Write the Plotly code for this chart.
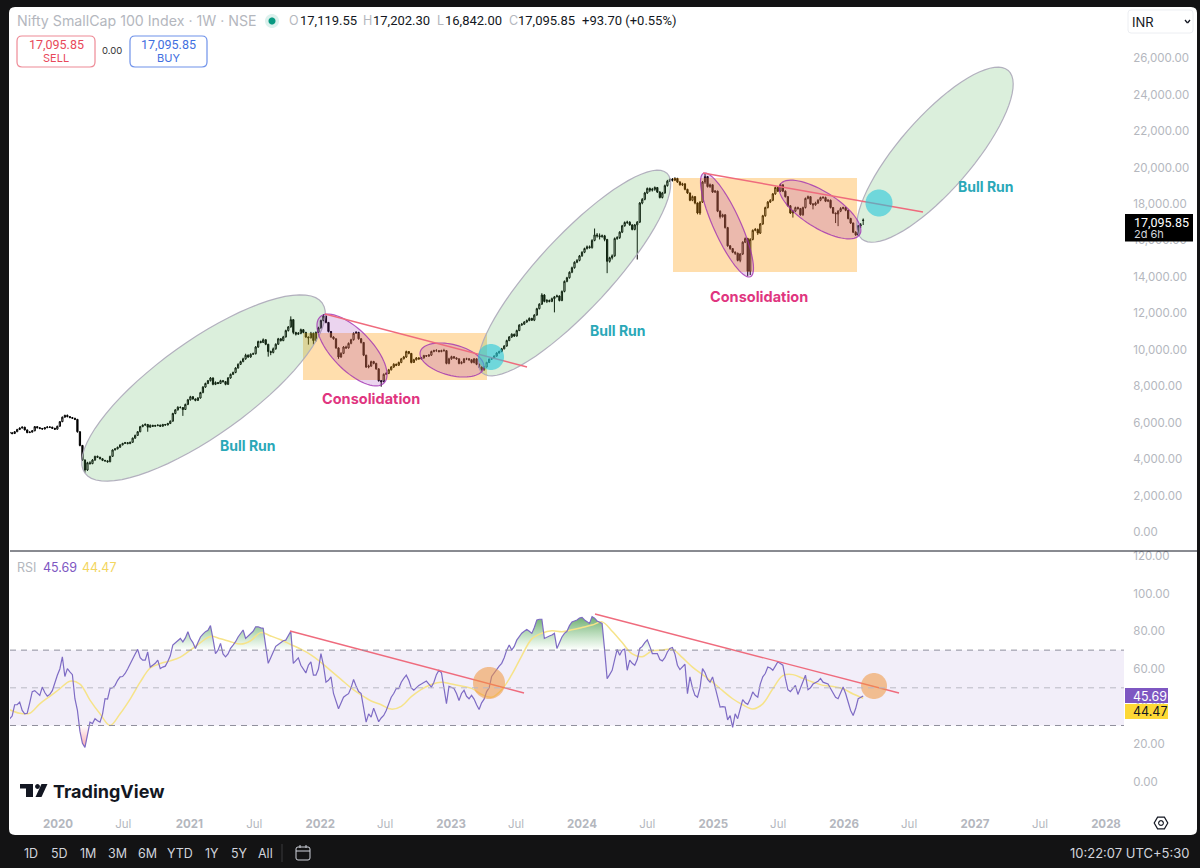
import math

import numpy as np
import pandas as pd
import plotly.graph_objects as go

WIDTH = 1200
HEIGHT = 868
FONT = "Inter"
NUM_FONT = "Roboto"

# weekly candles
candle_open = [
    5460, 5440, 5400, 5500, 5620, 5700, 5750, 5600, 5450, 5480,
    5550, 5780, 5720, 5680, 5650, 5720, 5760, 5750, 5690, 5640,
    5800, 6050, 6300, 6400, 6330, 6280, 6240, 6180, 5500, 4750,
    3950, 3400, 3800, 3750, 3950, 4150, 4100, 4020, 3930, 3900,
    3850, 4150, 4500, 4560, 4650, 4780, 4860, 4900, 4850, 4920,
    5150, 5300, 5500, 5780, 5860, 5900, 5750, 5850, 5800, 5840,
    5860, 5800, 5900, 5870, 5950, 6080, 6500, 6700, 6840, 6830,
    6720, 7000, 7250, 7420, 7300, 7220, 7350, 7650, 7950, 8150,
    8300, 8450, 8100, 8200, 8150, 8300, 8250, 8100, 8450, 8650,
    8750, 9000, 9200, 9350, 9500, 9700, 9600, 9750, 9780, 10150,
    10450, 10400, 10550, 10300, 9900, 9850, 10050, 10300, 10600, 10500,
    10700, 11050, 11250, 11650, 10950, 10850, 10900, 11100, 10950, 10700,
    10650, 10900, 10500, 10950, 11200, 11600, 11850, 11500, 11000, 10700,
    10600, 10100, 9600, 9800, 10150, 10100, 10350, 10550, 10900, 10950,
    10600, 10400, 9700, 9050, 9100, 9350, 9250, 8950, 8300, 8250,
    8650, 8700, 8900, 9050, 9200, 9150, 9300, 9500, 9600, 9900,
    9800, 9300, 9450, 9550, 9500, 9550, 9680, 9650, 9700, 9900,
    9950, 9950, 9900, 9950, 9950, 9250, 9500, 9620, 9550, 9500,
    9250, 9300, 9500, 9500, 9450, 9300, 9500, 9200, 9050, 8900,
    9050, 9300, 9480, 9520, 9650, 9820, 9900, 10050, 10200, 10500,
    10700, 10850, 10750, 11050, 11350, 11400, 11520, 11600, 11720, 11620,
    11900, 12250, 12500, 13000, 12650, 12700, 12650, 12800, 12900, 12950,
    12700, 13200, 13750, 13950, 14250, 14500, 14800, 14900, 15150, 15350,
    15550, 15650, 15600, 16000, 16300, 16250, 16200, 16250, 16050, 14850,
    15050, 15150, 16100, 16150, 16450, 16800, 16980, 17000, 16850, 16600,
    16850, 17000, 18050, 18250, 18600, 18850, 18750, 18800, 18900, 18650,
    18350, 18600, 19000, 19250, 19350, 19300, 19400, 19200, 19050, 19100,
    18800, 18600, 18200, 18400, 18050, 17500, 18100, 19200, 19500, 18950,
    19050, 18650, 18700, 17600, 17300, 17400, 16700, 15700, 15550, 15350,
    15300, 14900, 15250, 15900, 16100, 14300, 16050, 16550, 16600, 16400,
    16900, 17350, 17800, 18100, 18200, 18550, 18900, 18700, 19050, 18700,
    18400, 17900, 17500, 17600, 17800, 17750, 17400, 17800, 18300, 18400,
    18000, 17950, 18050, 18200, 18350, 18350, 18150, 18200, 17800, 17500,
    17450, 17600, 17750, 17800, 17650, 17200, 16950, 16450, 16300, 16800,
    17119.55,
]
candle_high = [
    5500, 5480, 5540, 5660, 5740, 5790, 5770, 5620, 5520, 5590,
    5810, 5800, 5750, 5700, 5760, 5800, 5790, 5770, 5710, 5830,
    6080, 6330, 6430, 6440, 6350, 6310, 6260, 6200, 5520, 4770,
    3980, 3850, 3880, 4000, 4180, 4190, 4120, 4040, 3950, 3930,
    4180, 4530, 4590, 4680, 4810, 4890, 4940, 4930, 4960, 5180,
    5340, 5540, 5820, 5900, 5960, 5920, 5900, 5880, 5880, 5900,
    5890, 5930, 5920, 5990, 6120, 6540, 6740, 6900, 6890, 6850,
    7040, 7300, 7470, 7460, 7320, 7400, 7690, 8000, 8190, 8340,
    8500, 8480, 8260, 8230, 8350, 8340, 8270, 8500, 8690, 8800,
    9040, 9250, 9400, 9560, 9780, 9740, 9800, 9840, 10200, 10500,
    10500, 10620, 10560, 10320, 9950, 10120, 10350, 10650, 10630, 10760,
    11100, 11300, 11830, 11680, 10980, 10970, 11160, 11130, 10980, 10720,
    10980, 10940, 11000, 11260, 11650, 11950, 11870, 11520, 11030, 10740,
    10620, 10130, 9860, 10200, 10220, 10400, 10600, 10950, 11020, 10980,
    10640, 10420, 9720, 9180, 9400, 9390, 9280, 8980, 8340, 8700,
    8760, 8950, 9100, 9260, 9240, 9350, 9550, 9660, 9950, 9930,
    9820, 9500, 9600, 9590, 9600, 9720, 9710, 9760, 9950, 10000,
    10030, 9980, 10000, 10050, 9970, 9560, 9670, 9650, 9580, 9520,
    9370, 9540, 9560, 9540, 9470, 9540, 9520, 9240, 9080, 9110,
    9340, 9520, 9560, 9690, 9860, 9950, 10100, 10250, 10550, 10750,
    10900, 10880, 11100, 11400, 11470, 11570, 11660, 11770, 11750, 11950,
    12300, 12550, 13100, 13050, 12780, 12750, 12860, 12950, 13020, 12980,
    13250, 13800, 14000, 14300, 14560, 14850, 14970, 15200, 15400, 15600,
    15720, 15720, 16060, 16650, 16400, 16380, 16320, 16300, 16080, 15100,
    15230, 16160, 16230, 16500, 16850, 17040, 17080, 17050, 16880, 16900,
    17060, 18100, 18320, 18660, 18900, 18900, 18880, 18960, 18930, 18700,
    18660, 19060, 19320, 19400, 19420, 19460, 19430, 19250, 19160, 19130,
    18830, 18620, 18460, 18430, 18080, 18150, 19260, 19680, 19520, 19120,
    19080, 18760, 18730, 17650, 17460, 17440, 16740, 15740, 15580, 15400,
    15320, 15300, 15950, 16160, 16140, 16120, 16600, 16680, 16650, 16950,
    17400, 17850, 18160, 18260, 18600, 18950, 18950, 19120, 19060, 18740,
    18430, 17940, 17680, 17850, 17850, 17780, 17850, 18350, 18460, 18430,
    18050, 18120, 18260, 18400, 18430, 18400, 18260, 18240, 17830, 17520,
    17660, 17820, 17850, 17840, 17680, 17240, 16980, 16500, 16850, 16950,
    17202.30,
]
candle_low = [
    5380, 5360, 5380, 5480, 5600, 5680, 5570, 5420, 5430, 5460,
    5530, 5680, 5640, 5610, 5630, 5700, 5710, 5660, 5600, 5620,
    5780, 6030, 6270, 6290, 6240, 6200, 6140, 5450, 4700, 3900,
    3250, 3350, 3700, 3720, 3900, 4060, 3980, 3890, 3860, 3810,
    3830, 4120, 4480, 4530, 4620, 4750, 4830, 4810, 4820, 4890,
    5110, 5270, 5470, 5750, 5830, 5500, 5720, 5760, 5770, 5800,
    5760, 5780, 5840, 5850, 5920, 6050, 6460, 6660, 6780, 6370,
    6700, 6960, 7210, 7260, 7170, 7190, 7320, 7610, 7910, 8110,
    8260, 8050, 8060, 8110, 8120, 8200, 8050, 8070, 8410, 8610,
    8710, 8960, 9160, 9310, 9450, 9550, 9560, 9720, 9740, 10100,
    10350, 10370, 10250, 9620, 9700, 9800, 10000, 10270, 10450, 10470,
    10670, 11000, 11210, 10850, 10780, 10820, 10850, 10900, 10650, 10280,
    10620, 10280, 10450, 10920, 11150, 11560, 11450, 10950, 10650, 10550,
    10050, 9500, 9560, 9760, 10050, 10060, 10300, 10500, 10870, 10550,
    10340, 9650, 9000, 8980, 9060, 9200, 8900, 8250, 7970, 8220,
    8630, 8660, 8860, 9000, 9100, 9110, 9260, 9470, 9550, 9750,
    9250, 9280, 9410, 9450, 9460, 9510, 9600, 9610, 9660, 9860,
    9890, 9850, 9860, 9900, 9200, 9200, 9450, 9500, 9450, 9200,
    9200, 9260, 9430, 9400, 9250, 9250, 9150, 9000, 8850, 8850,
    9020, 9270, 9450, 9490, 9620, 9790, 9860, 10020, 10170, 10470,
    10650, 10700, 10720, 11020, 11320, 11370, 11480, 11560, 11580, 11570,
    11870, 12210, 12460, 12600, 12560, 12600, 12610, 12050, 12880, 12650,
    12660, 13150, 13700, 13900, 14200, 14450, 14750, 14850, 15100, 15300,
    15500, 15550, 15550, 15950, 16150, 16050, 16150, 15950, 14200, 14780,
    14950, 15100, 16030, 16080, 16400, 16750, 16900, 16800, 16550, 16550,
    14950, 16950, 17980, 18200, 18550, 18650, 18680, 18720, 18600, 18300,
    18300, 18560, 18950, 19200, 19230, 19260, 19150, 19000, 18980, 18750,
    18550, 18150, 18150, 17980, 17430, 17400, 18050, 19100, 18900, 18880,
    18600, 18600, 17550, 17200, 17250, 16650, 15650, 15480, 15300, 15200,
    14850, 14800, 15200, 15850, 14050, 14100, 16000, 16500, 16300, 16350,
    16850, 17300, 17750, 18050, 18150, 18500, 18650, 18650, 18650, 18350,
    17850, 17450, 17250, 17550, 17680, 17350, 17350, 17750, 18250, 17950,
    17700, 17900, 18000, 18150, 18270, 18100, 18100, 17750, 17450, 16950,
    16780, 17550, 17700, 17600, 17150, 16900, 16400, 16250, 16250, 16680,
    16842.00,
]
candle_close = [
    5440, 5400, 5500, 5620, 5700, 5750, 5600, 5450, 5480, 5550,
    5780, 5720, 5680, 5650, 5720, 5760, 5750, 5690, 5640, 5800,
    6050, 6300, 6400, 6330, 6280, 6240, 6180, 5500, 4750, 3950,
    3400, 3800, 3750, 3950, 4150, 4100, 4020, 3930, 3900, 3850,
    4150, 4500, 4560, 4650, 4780, 4860, 4900, 4850, 4920, 5150,
    5300, 5500, 5780, 5860, 5900, 5750, 5850, 5800, 5840, 5860,
    5800, 5900, 5870, 5950, 6080, 6500, 6700, 6840, 6830, 6720,
    7000, 7250, 7420, 7300, 7220, 7350, 7650, 7950, 8150, 8300,
    8450, 8100, 8200, 8150, 8300, 8250, 8100, 8450, 8650, 8750,
    9000, 9200, 9350, 9500, 9700, 9600, 9750, 9780, 10150, 10450,
    10400, 10550, 10300, 9900, 9850, 10050, 10300, 10600, 10500, 10700,
    11050, 11250, 11650, 10950, 10850, 10900, 11100, 10950, 10700, 10650,
    10900, 10500, 10950, 11200, 11600, 11850, 11500, 11000, 10700, 10600,
    10100, 9600, 9800, 10150, 10100, 10350, 10550, 10900, 10950, 10600,
    10400, 9700, 9050, 9100, 9350, 9250, 8950, 8300, 8250, 8650,
    8700, 8900, 9050, 9200, 9150, 9300, 9500, 9600, 9900, 9800,
    9300, 9450, 9550, 9500, 9550, 9680, 9650, 9700, 9900, 9950,
    9950, 9900, 9950, 9950, 9250, 9500, 9620, 9550, 9500, 9250,
    9300, 9500, 9500, 9450, 9300, 9500, 9200, 9050, 8900, 9050,
    9300, 9480, 9520, 9650, 9820, 9900, 10050, 10200, 10500, 10700,
    10850, 10750, 11050, 11350, 11400, 11520, 11600, 11720, 11620, 11900,
    12250, 12500, 13000, 12650, 12700, 12650, 12800, 12900, 12950, 12700,
    13200, 13750, 13950, 14250, 14500, 14800, 14900, 15150, 15350, 15550,
    15650, 15600, 16000, 16300, 16250, 16200, 16250, 16050, 14850, 15050,
    15150, 16100, 16150, 16450, 16800, 16980, 17000, 16850, 16600, 16850,
    17000, 18050, 18250, 18600, 18850, 18750, 18800, 18900, 18650, 18350,
    18600, 19000, 19250, 19350, 19300, 19400, 19200, 19050, 19100, 18800,
    18600, 18200, 18400, 18050, 17500, 18100, 19200, 19500, 18950, 19050,
    18650, 18700, 17600, 17300, 17400, 16700, 15700, 15550, 15350, 15300,
    14900, 15250, 15900, 16100, 14300, 16050, 16550, 16600, 16400, 16900,
    17350, 17800, 18100, 18200, 18550, 18900, 18700, 19050, 18700, 18400,
    17900, 17500, 17600, 17800, 17750, 17400, 17800, 18300, 18400, 18000,
    17950, 18050, 18200, 18350, 18350, 18150, 18200, 17800, 17500, 17450,
    17600, 17750, 17800, 17650, 17200, 16950, 16450, 16300, 16800, 16850,
    17095.85,
]
rsi_values = [
    33.5, 35, 41, 41, 42.4, 38, 36.2, 36.5, 42, 48,
    48.5, 47, 46, 50.4, 47.5, 45.6, 46.5, 48.5, 53, 56.7,
    60, 66.4, 56, 60.2, 58.5, 57, 44.2, 38, 27, 20.5,
    18.4, 25, 31.8, 31, 33.6, 32.5, 31.8, 36, 44.2, 44,
    49.6, 50, 51.3, 54, 55.8, 56, 57.6, 60, 62.9, 65,
    68, 70.4, 66, 64.7, 64.7, 69, 61, 62, 63, 64.7,
    60.2, 61, 61.5, 64, 67, 72.7, 74, 75, 76.2, 74.4,
    76.5, 79.8, 76, 74, 70.9, 74, 77, 78.5, 79.8, 80.5,
    83, 76, 68.2, 70, 73.6, 68, 66.4, 68, 71, 72.7,
    74.5, 77, 79, 80.7, 76.2, 77.5, 79, 80, 82.4, 82.4,
    81.8, 81.6, 72, 63, 66, 69, 72, 73, 74, 75,
    75.3, 78, 80, 63, 64.5, 65.9, 62, 60, 57.9, 62,
    63.8, 56.7, 56.7, 60, 68.2, 62, 53, 54, 55.8, 47,
    43, 38.9, 42, 45, 46, 46.9, 50, 54.4, 51, 48,
    46.9, 38, 31.8, 36.2, 34.4, 39.2, 35, 32, 34, 35.3,
    38, 42, 45, 47, 49.6, 49.6, 53, 55, 56.7, 54,
    50, 48.7, 50, 51.3, 52, 53, 53.6, 52, 50.4, 53,
    57, 59.3, 58, 50, 41.6, 50.8, 50.3, 49.6, 47, 43.3,
    47, 48.7, 45.5, 44.2, 46, 44, 41, 38.5, 42, 44,
    48, 50, 56, 58, 60, 61.5, 63, 66, 70, 72.7,
    70, 72, 75.3, 77, 79, 80, 81, 80, 78.9, 82,
    86, 86.4, 86.4, 76.2, 77, 77.5, 78, 78.9, 70.9, 74,
    77, 78.9, 80, 83, 85, 85.5, 86, 87, 87.4, 86,
    85, 84.2, 87.8, 87, 85.5, 84.8, 84.2, 70, 54.9, 57,
    59.3, 65, 70.4, 67.3, 70, 70.5, 59.3, 64.7, 63, 62,
    65, 70.9, 72, 74, 75.5, 72, 68.2, 68.2, 68.2, 65,
    64.3, 66, 69, 70.9, 71.4, 68, 62, 59.7, 61, 62.5,
    46.9, 55.8, 50, 46, 45, 50, 60.2, 58, 54.5, 53,
    55.8, 50, 44.2, 39.8, 40, 39.8, 33, 35.3, 29, 36.2,
    33.6, 38, 43.7, 42, 41.2, 44, 47.8, 46, 45, 52,
    55.8, 57.6, 61, 60.5, 59.3, 61.5, 63.8, 62.9, 62, 55,
    49, 48, 50, 51.3, 46.5, 50, 54, 56.7, 49, 50,
    52, 53, 53.5, 55, 53, 52.5, 52, 49.6, 47, 45,
    44.2, 47, 50.4, 47, 42, 38, 35.3, 39, 44.2, 44.8,
    45.69,
]
# the yellow average, read every fourth week
rsi_avg_values = [
    38.4, 36.5, 36.5, 41.5, 45.5, 49.5, 53.5, 52, 43.5, 36.2,
    30, 36.2, 44, 53, 60.5, 62.9, 64.3, 66.3, 70, 74,
    77.3, 76, 74.5, 73.2, 75, 79.3, 77.5, 75.5, 73, 70.5,
    67.5, 63.5, 59, 54.5, 50, 46.2, 43, 41, 38.7, 40.2,
    45.3, 49.2, 51.8, 53, 52, 51, 49.7, 46.5, 45, 49,
    57, 67, 76, 79, 80.3, 79.8, 80.8, 82, 83.3, 85,
    80, 74, 68, 66.5, 69.7, 70, 70.4, 66, 61, 57,
    53, 48.5, 44.2, 41, 38.8, 41.5, 49.5, 56.5, 57, 55,
    53, 51.3, 50.7, 49.5, 46.7, 44.47,
]

price_ticks = [0, 2000, 4000, 6000, 8000, 10000, 12000, 14000, 16000, 18000, 20000, 22000, 24000, 26000]
rsi_ticks = [0, 20, 40, 60, 80, 100, 120]
time_ticks = ["2020-01-01", "2020-07-01", "2021-01-01", "2021-07-01", "2022-01-01", "2022-07-01",
              "2023-01-01", "2023-07-01", "2024-01-01", "2024-07-01", "2025-01-01", "2025-07-01",
              "2026-01-01", "2026-07-01", "2027-01-01", "2027-07-01", "2028-01-01"]
time_labels = ["<b>2020</b>", "Jul", "<b>2021</b>", "Jul", "<b>2022</b>", "Jul",
               "<b>2023</b>", "Jul", "<b>2024</b>", "Jul", "<b>2025</b>", "Jul",
               "<b>2026</b>", "Jul", "<b>2027</b>", "Jul", "<b>2028</b>"]
range_buttons = ["1D", "5D", "1M", "3M", "6M", "YTD", "1Y", "5Y", "All"]
button_centers = [31, 59, 88, 117, 147, 180, 212, 239, 265]

weeks = pd.date_range("2019-08-19", periods=len(candle_close), freq="7D")
avg_weeks = weeks[::4]
rsi = np.array(rsi_values)

GREEN_FILL = "rgba(76,175,80,0.2)"
GREEN_EDGE = "rgba(175,172,188,0.95)"
ORANGE_FILL = "rgba(255,152,0,0.32)"
PURPLE_FILL = "rgba(156,39,176,0.2)"
PURPLE_EDGE = "rgba(156,39,176,0.75)"
TEAL_FILL = "rgba(38,198,218,0.6)"
PEACH_FILL = "rgba(240,150,60,0.55)"
RED_LINE = "#ef6b7d"
GREY_TEXT = "#b4b7be"
DARK = "#131314"


def fx(x):
    return x / WIDTH


def fy(y):
    return 1 - y / HEIGHT


def paper_shape(**kw):
    return dict(xref="paper", yref="paper", **kw)


def box(x0, y0, x1, y1, fill, line=None, width=1):
    return paper_shape(type="rect", x0=fx(x0), x1=fx(x1), y0=fy(y1), y1=fy(y0), fillcolor=fill,
                       line=dict(color=line or "rgba(0,0,0,0)", width=width if line else 0))


def round_box(x0, y0, x1, y1, r, fill, line=None, width=1):
    """Rounded rectangle in page pixels, plotly shapes have no corner radius except via path."""
    px = lambda v: f"{fx(v):.5f}"
    py = lambda v: f"{fy(v):.5f}"
    path = (f"M {px(x0 + r)} {py(y0)} L {px(x1 - r)} {py(y0)} Q {px(x1)} {py(y0)} {px(x1)} {py(y0 + r)} "
            f"L {px(x1)} {py(y1 - r)} Q {px(x1)} {py(y1)} {px(x1 - r)} {py(y1)} "
            f"L {px(x0 + r)} {py(y1)} Q {px(x0)} {py(y1)} {px(x0)} {py(y1 - r)} "
            f"L {px(x0)} {py(y0 + r)} Q {px(x0)} {py(y0)} {px(x0 + r)} {py(y0)} Z")
    return paper_shape(type="path", path=path, fillcolor=fill,
                       line=dict(color=line or "rgba(0,0,0,0)", width=width if line else 0))


def ellipse(cx, cy, a, b, angle, fill, line=None, width=1.2):
    """Tilted ellipse in page pixels, angle in degrees, positive going up to the right."""
    t = math.radians(angle)
    pts = []
    for k in range(72):
        u = 2 * math.pi * k / 72
        x = cx + a * math.cos(u) * math.cos(t) - b * math.sin(u) * math.sin(t)
        y = cy - a * math.cos(u) * math.sin(t) - b * math.sin(u) * math.cos(t)
        pts.append(f"{fx(x):.5f} {fy(y):.5f}")
    return paper_shape(type="path", path="M " + " L ".join(pts) + " Z", fillcolor=fill,
                       line=dict(color=line or "rgba(0,0,0,0)", width=width if line else 0))


def segment(x0, y0, x1, y1, color=RED_LINE, width=1.4, dash=None):
    return paper_shape(type="line", x0=fx(x0), x1=fx(x1), y0=fy(y0), y1=fy(y1),
                       line=dict(color=color, width=width, dash=dash))


def label(x, y, text, size=12.5, color="#131722", anchor="center", bold=False, family=FONT):
    return dict(xref="paper", yref="paper", x=fx(x), y=fy(y), text=f"<b>{text}</b>" if bold else text,
                showarrow=False, xanchor=anchor, yanchor="middle",
                font=dict(family=family, size=size, color=color))


fig = go.Figure()

fig.add_trace(go.Candlestick(x=weeks, open=candle_open, high=candle_high, low=candle_low, close=candle_close,
                             xaxis="x", yaxis="y", whiskerwidth=0,
                             increasing=dict(line=dict(color="#000000", width=1), fillcolor="#ffffff"),
                             decreasing=dict(line=dict(color="#000000", width=1), fillcolor="#000000"),
                             showlegend=False, hoverinfo="skip"))

# overbought / oversold shading on the RSI
fig.add_trace(go.Scatter(x=weeks, y=[70] * len(weeks), xaxis="x2", yaxis="y2", mode="lines",
                         line=dict(width=0), showlegend=False, hoverinfo="skip"))
fig.add_trace(go.Scatter(x=weeks, y=np.maximum(rsi, 70), xaxis="x2", yaxis="y2", mode="lines",
                         line=dict(width=0), fill="tonexty", showlegend=False, hoverinfo="skip",
                         fillgradient=dict(type="vertical", start=70, stop=88,
                                           colorscale=[[0, "rgba(76,175,80,0)"], [1, "rgba(56,142,60,0.75)"]])))
fig.add_trace(go.Scatter(x=weeks, y=[30] * len(weeks), xaxis="x2", yaxis="y2", mode="lines",
                         line=dict(width=0), showlegend=False, hoverinfo="skip"))
fig.add_trace(go.Scatter(x=weeks, y=np.minimum(rsi, 30), xaxis="x2", yaxis="y2", mode="lines",
                         line=dict(width=0), fill="tonexty", showlegend=False, hoverinfo="skip",
                         fillgradient=dict(type="vertical", start=30, stop=18,
                                           colorscale=[[0, "rgba(242,54,69,0)"], [1, "rgba(242,54,69,0.45)"]])))

fig.add_trace(go.Scatter(x=avg_weeks, y=rsi_avg_values, xaxis="x2", yaxis="y2", mode="lines",
                         line=dict(color="#f6e389", width=1.5, shape="spline"), showlegend=False, hoverinfo="skip"))
fig.add_trace(go.Scatter(x=weeks, y=rsi_values, xaxis="x2", yaxis="y2", mode="lines",
                         line=dict(color="#7e6bc4", width=1.2), showlegend=False, hoverinfo="skip"))

shapes = [
    # frame and white chart panel
    dict(round_box(9, 7, 1197, 835, 6, "#ffffff"), layer="below"),
    segment(10, 551, 1197, 551, color="#131722", width=1),
    # rsi band
    dict(type="rect", xref="paper", x0=fx(10), x1=fx(1124), yref="y2", y0=30, y1=70,
         fillcolor="rgba(126,87,194,0.1)", line=dict(width=0), layer="below"),
    # drawings on the price pane
    box(303, 333, 487, 380, ORANGE_FILL),
    box(673, 178, 857, 272, ORANGE_FILL),
    ellipse(203.5, 388, 146, 47, 35.6, GREEN_FILL, GREEN_EDGE),
    ellipse(574.5, 273, 136, 36.5, 47.2, GREEN_FILL, GREEN_EDGE),
    ellipse(935, 154.7, 111.6, 36.4, 49, GREEN_FILL, GREEN_EDGE),
    ellipse(352, 350, 46, 20, -46, PURPLE_FILL, PURPLE_EDGE),
    ellipse(452, 360, 32.8, 15.4, -14.5, PURPLE_FILL, PURPLE_EDGE),
    ellipse(727, 225, 56.8, 13.5, -65.6, PURPLE_FILL, PURPLE_EDGE),
    ellipse(820, 209.5, 47, 18, -32.3, PURPLE_FILL, PURPLE_EDGE),
    segment(325, 314, 527, 367),
    segment(703, 173, 923, 212),
    ellipse(491, 357, 13, 13, 0, TEAL_FILL),
    ellipse(879, 203, 13.5, 13.5, 0, TEAL_FILL),
    # drawings on the rsi pane
    segment(290, 631, 524, 693),
    segment(595, 614, 899, 693),
    ellipse(489, 683, 16, 16, 0, PEACH_FILL),
    ellipse(874, 686, 13, 13, 0, PEACH_FILL),
    # rsi levels
    dict(type="line", xref="x2 domain", x0=0, x1=0.9991, yref="y2", y0=70, y1=70,
         line=dict(color="#8f8f9c", width=1, dash="6px,5px")),
    dict(type="line", xref="x2 domain", x0=0, x1=0.9991, yref="y2", y0=50, y1=50,
         line=dict(color="#b9b9c4", width=1, dash="6px,5px")),
    dict(type="line", xref="x2 domain", x0=0, x1=0.9991, yref="y2", y0=30, y1=30,
         line=dict(color="#8f8f9c", width=1, dash="6px,5px")),
    # header
    round_box(17, 36, 95, 67, 5, "#ffffff", "#ee8a96", 1.2),
    round_box(130, 36, 207, 67, 5, "#ffffff", "#6f92ea", 1.2),
    ellipse(272, 21, 7, 7, 0, "rgba(8,153,129,0.14)"),
    ellipse(272, 21, 3.5, 3.5, 0, "#089981"),
    round_box(1128, 10, 1193, 33, 3, "#ffffff", "#eceef2", 1),
    segment(1185, 20, 1187.5, 23, color="#131722", width=1.3),
    segment(1187.5, 23, 1190, 20, color="#131722", width=1.3),
    # price tags
    box(1125, 214, 1193, 241.5, "#000000"),
    box(1125, 688, 1168, 703, "#7e57c2"),
    box(1125, 704, 1168, 719, "#fdd835"),
    # tradingview logo
    box(20, 784, 33, 788.5, "#131722"),
    box(26, 784, 33, 797, "#131722"),
    ellipse(37.5, 786.5, 2.4, 2.4, 0, "#131722"),
    paper_shape(type="path", fillcolor="#131722", line=dict(width=0),
                path=f"M {fx(41.5):.5f} {fy(784):.5f} L {fx(47.5):.5f} {fy(784):.5f} "
                     f"L {fx(41.5):.5f} {fy(797):.5f} L {fx(35.5):.5f} {fy(797):.5f} Z"),
    # settings icon
    paper_shape(type="path", fillcolor="rgba(0,0,0,0)", line=dict(color="#131722", width=1.2),
                path=" ".join(("M" if k == 0 else "L") +
                              f" {fx(1161 + 6.8 * math.cos(math.pi * k / 3)):.5f}"
                              f" {fy(823 + 6.8 * math.sin(math.pi * k / 3)):.5f}" for k in range(6)) + " Z"),
    ellipse(1161, 823, 2.3, 2.3, 0, "rgba(0,0,0,0)", "#131722", 1.2),
    # bottom bar
    segment(282, 844, 282, 862, color="#3a3a3d", width=1),
    round_box(296, 847, 310, 860, 2, "rgba(0,0,0,0)", "#d1d4dc", 1),
    segment(296, 851, 310, 851, color="#d1d4dc", width=1),
    segment(300, 845, 300, 848, color="#d1d4dc", width=1),
    segment(306, 845, 306, 848, color="#d1d4dc", width=1),
]

annotations = [
    label(15, 21, "Nifty SmallCap 100 Index · 1W · NSE", size=14.2, color=GREY_TEXT, anchor="left"),
    label(287, 21, "O", size=12.5, color=GREY_TEXT, anchor="left"),
    label(298, 21, "17,119.55", size=13, anchor="left", family=NUM_FONT),
    label(361, 21, "H", size=12.5, color=GREY_TEXT, anchor="left"),
    label(371, 21, "17,202.30", size=13, anchor="left", family=NUM_FONT),
    label(435, 21, "L", size=12.5, color=GREY_TEXT, anchor="left"),
    label(443, 21, "16,842.00", size=13, anchor="left", family=NUM_FONT),
    label(507, 21, "C", size=12.5, color=GREY_TEXT, anchor="left"),
    label(516, 21, "17,095.85", size=13, anchor="left", family=NUM_FONT),
    label(580, 21, "+93.70 (+0.55%)", size=13, anchor="left", family=NUM_FONT),
    label(56, 45, "17,095.85", size=12.5, color="#e8485a", family=NUM_FONT),
    label(56, 57.5, "SELL", size=11, color="#e8485a"),
    label(112, 51, "0.00", size=9.5, color="#333333"),
    label(168, 45, "17,095.85", size=12.5, color="#3f6fe0", family=NUM_FONT),
    label(168, 57.5, "BUY", size=11, color="#3f6fe0"),
    label(1130, 22, "INR", size=13, anchor="left"),
    label(1132, 222, "17,095.85", size=12.5, color="#ffffff", anchor="left", family=NUM_FONT),
    label(1132, 234.5, "2d 6h", size=11, color="#d1d4dc", anchor="left"),
    label(1131, 696, "45.69", size=12.5, color="#ffffff", anchor="left"),
    label(1131, 711.5, "44.47", size=12.5, color="#131722", anchor="left"),
    label(248, 445, "Bull Run", size=14, color="#2aa8b8", bold=True),
    label(618, 330, "Bull Run", size=14, color="#2aa8b8", bold=True),
    label(986, 186, "Bull Run", size=14, color="#2aa8b8", bold=True),
    label(371, 398, "Consolidation", size=14.5, color="#e0357f", bold=True),
    label(759, 296, "Consolidation", size=14.5, color="#e0357f", bold=True),
    label(15, 567, "RSI", size=12.5, color=GREY_TEXT, anchor="left"),
    label(41, 567, "45.69", size=12.5, color="#7e57c2", anchor="left"),
    label(80, 567, "44.47", size=12.5, color="#f3d65f", anchor="left"),
    label(51, 791, "TradingView", size=18, color="#131722", anchor="left", bold=True),
    label(1129, 853, "10:22:07 UTC+5:30", size=13, color="#d1d4dc"),
]
for name, cx in zip(range_buttons, button_centers):
    annotations.append(label(cx, 853, name, size=12.5, color="#d1d4dc"))

axis_font = dict(family=FONT, size=11.5, color=GREY_TEXT)
x_range = ["2019-08-20", "2028-02-23"]

fig.update_layout(
    width=WIDTH, height=HEIGHT,
    margin=dict(l=0, r=0, t=0, b=0),
    paper_bgcolor=DARK, plot_bgcolor="rgba(0,0,0,0)",
    showlegend=False,
    font=dict(family=FONT),
    shapes=shapes,
    annotations=annotations,
    xaxis=dict(domain=[10 / WIDTH, 1125 / WIDTH], range=x_range, type="date", anchor="y", automargin=False,
               showticklabels=False, showgrid=False, zeroline=False, ticks="",
               rangeslider=dict(visible=False)),
    yaxis=dict(domain=[1 - 551 / HEIGHT, 1 - 8 / HEIGHT], range=[-1044, 28750], anchor="x", side="right",
               automargin=False, tickvals=price_ticks, ticktext=[f"{v:,.2f}" for v in price_ticks],
               tickfont=axis_font, showgrid=False, zeroline=False, ticks="outside", ticklen=5,
               tickcolor="rgba(0,0,0,0)"),
    xaxis2=dict(domain=[10 / WIDTH, 1125 / WIDTH], range=x_range, type="date", anchor="y2", matches="x",
                automargin=False, tickvals=time_ticks, ticktext=time_labels, tickfont=axis_font, tickangle=0,
                showgrid=False, zeroline=False, ticks="outside", ticklen=5, tickcolor="rgba(0,0,0,0)"),
    yaxis2=dict(domain=[1 - 808 / HEIGHT, 1 - 552 / HEIGHT], range=[-13.8, 122.1], anchor="x2", side="right",
                automargin=False, tickvals=rsi_ticks, ticktext=[f"{v:.2f}" for v in rsi_ticks], tickfont=axis_font,
                showgrid=False, zeroline=False, ticks="outside", ticklen=5, tickcolor="rgba(0,0,0,0)"),
)

# the page's default body margin would push the whole figure off by 8px
fig.write_html("out.html", config={"displayModeBar": False},
               post_script="document.body.style.margin='0';document.body.style.overflow='hidden';")
